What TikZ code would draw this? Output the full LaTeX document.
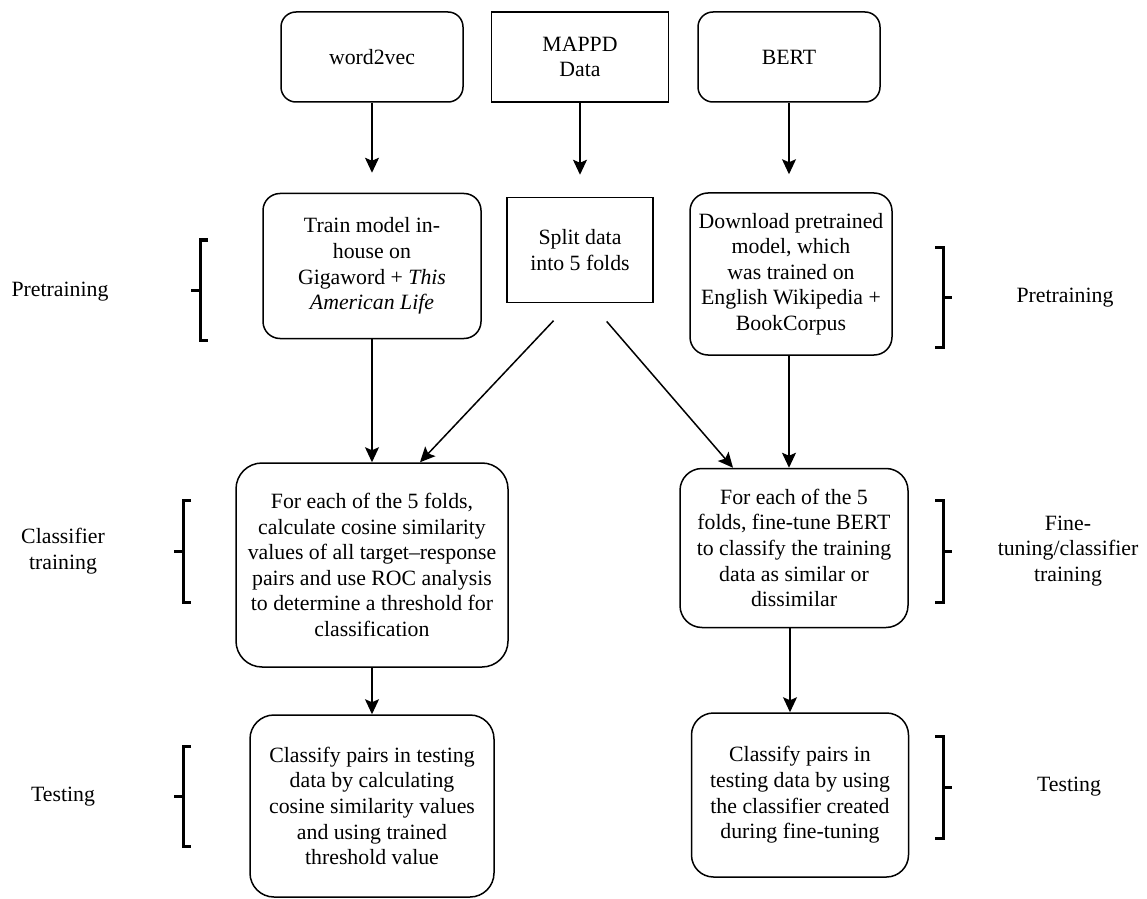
\documentclass[tikz,border=0pt]{standalone}
\usepackage{fontspec}
\setmainfont{Liberation Serif}
\usepackage{tikz}
\usetikzlibrary{calc,arrows.meta,positioning}

\begin{document}
\begin{tikzpicture}[
  x=0.5pt, y=-0.5pt,
  font=\rmfamily\fontsize{10.9}{12.8}\selectfont,
  source/.style={draw, line width=0.75pt, rounded corners=7.5pt, minimum width=91pt, minimum height=45pt, align=center, inner sep=2pt},
  data/.style={draw, line width=0.75pt, minimum width=88.5pt, minimum height=45pt, align=center, inner sep=2pt},
  stage/.style={draw, line width=0.75pt, rounded corners=10pt, align=center, inner sep=2pt},
  phase/.style={align=center},
  brack/.style={line width=1.5pt},
  flow/.style={-{Stealth[length=7.5pt, width=7pt, inset=1.5pt]}, line width=0.75pt},
]
  \useasboundingbox (0,0) rectangle (1147,899);

  % Top: inputs
  \node[source] (wordvec) at (372,57) {word2vec};
  \node[data] (mappd) at (580,57) {MAPPD\\Data};
  \node[source] (bert) at (789,57) {BERT};

  % Pretraining row
  \node[stage, minimum width=109pt, minimum height=72.5pt, rounded corners=8.5pt] (train) at (372,266)
    {Train model in-\\house on\\Gigaword + \textit{This}\\\textit{American Life}};
  \node[data, minimum width=73pt, minimum height=52.5pt] (split) at (580,250) {Split data\\into 5 folds};
  \node[stage, minimum width=101pt, minimum height=81pt, rounded corners=9pt] (download) at (791,274)
    {Download pretrained\\model, which\\was trained on\\English Wikipedia +\\BookCorpus};

  % Classifier training row
  \node[stage, minimum width=136pt, minimum height=102pt, rounded corners=13pt] (cosfit) at (372,565)
    {For each of the 5 folds,\\calculate cosine similarity\\values of all target--response\\pairs and use ROC analysis\\to determine a threshold for\\classification};
  \node[stage, minimum width=114pt, minimum height=79.5pt, rounded corners=11pt] (finetune) at (794,548)
    {For each of the 5\\folds, fine-tune BERT\\to classify the training\\data as similar or\\dissimilar};

  % Testing row
  \node[stage, minimum width=122pt, minimum height=91pt, rounded corners=12pt] (costest) at (372,806)
    {Classify pairs in testing\\data by calculating\\cosine similarity values\\and using trained\\threshold value};
  \node[stage, minimum width=108.5pt, minimum height=82pt, rounded corners=11pt] (berttest) at (800,795)
    {Classify pairs in\\testing data by using\\the classifier created\\during fine-tuning};

  % Flows
  \draw[flow, shorten >=10pt] (wordvec.south) -- (wordvec.south |- train.north);
  \draw[flow, shorten >=11pt] (mappd.south) -- (mappd.south |- split.north);
  \draw[flow, shorten >=9pt] (bert.south) -- (bert.south |- download.north);
  \draw[flow] (train.south) -- (train.south |- cosfit.north);
  \draw[flow, shorten <=12pt] ([xshift=-5pt]split.south) -- ([xshift=24pt]cosfit.north);
  \draw[flow, shorten <=12pt] ([xshift=5.5pt]split.south) -- ([xshift=-30.5pt]finetune.north);
  \draw[flow] ([xshift=-1pt]download.south) -- ([xshift=-1pt]download.south |- finetune.north);
  \draw[flow] (cosfit.south) -- (cosfit.south |- costest.north);
  \draw[flow] ([xshift=-2pt]finetune.south) -- ([xshift=-2pt]finetune.south |- berttest.north);

  % Left brackets
  \draw[brack] (208,240) -- (200,240) -- (200,340) -- (208,340) (200,290) -- (191,290);
  \draw[brack] (191,500) -- (183,500) -- (183,602) -- (191,602) (183,551) -- (174,551);
  \draw[brack] (191,746) -- (183,746) -- (183,846) -- (191,846) (183,796) -- (174,796);

  % Right brackets
  \draw[brack] (935,247) -- (943,247) -- (943,347) -- (935,347) (943,297) -- (952,297);
  \draw[brack] (935,500) -- (943,500) -- (943,602) -- (935,602) (943,551) -- (952,551);
  \draw[brack] (935,736) -- (943,736) -- (943,838) -- (935,838) (943,787) -- (952,787);

  % Phase labels
  \node[phase] (preL) at (60,292) {Pretraining};
  \node[phase] (clsL) at (63,551) {Classifier\\training};
  \node[phase] (testL) at (63,797) {Testing};
  \node[phase] (preR) at (1065,298) {Pretraining};
  \node[phase] (clsR) at (1068,551) {Fine-\\tuning/classifier\\training};
  \node[phase] (testR) at (1069,787) {Testing};
\end{tikzpicture}
\end{document}
